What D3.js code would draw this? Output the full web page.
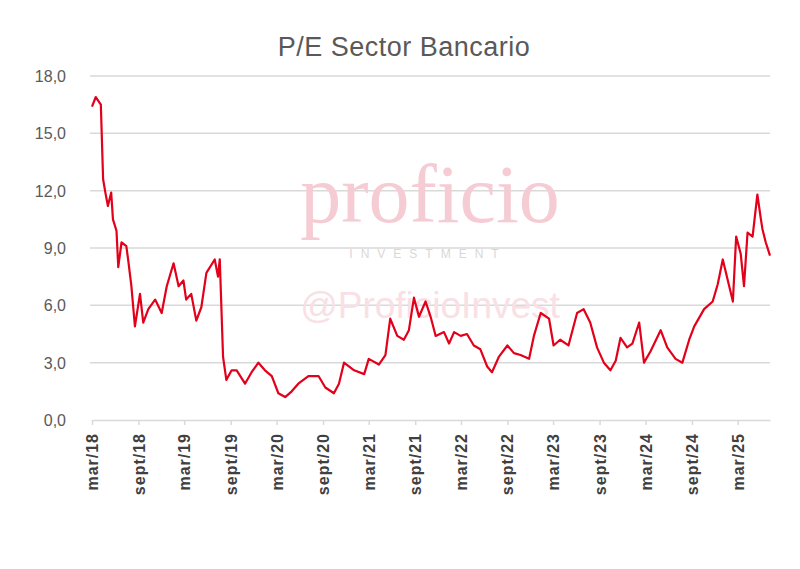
<!DOCTYPE html>
<html>
<head>
<meta charset="utf-8">
<script src="https://cdn.jsdelivr.net/npm/d3@7"></script>
<style>
  body { margin: 0; background: #fff; }
  svg { display: block; }
  .grid line { stroke: #d9d9d9; stroke-width: 1.5; }
  .yaxis text { fill: #595959; font-size: 16px; font-family: "Liberation Sans", Arial, sans-serif; }
  .xaxis text { fill: #404040; font-size: 16px; font-weight: bold; letter-spacing: 1px; font-family: "Liberation Sans", Arial, sans-serif; }
  .xaxis path, .xaxis line { stroke: #d9d9d9; stroke-width: 1.5; }
</style>
</head>
<body>
<script>
// P/E del sector bancario, lecturas aproximadas del grafico
var dates = [
  "2018-03-01","2018-03-16","2018-04-05","2018-04-14","2018-04-23","2018-05-03","2018-05-16","2018-05-23",
  "2018-06-06","2018-06-13","2018-06-26","2018-07-15","2018-07-22","2018-08-04","2018-08-18","2018-09-07",
  "2018-09-20","2018-10-10","2018-11-06","2018-12-02","2018-12-22","2019-01-18","2019-02-07","2019-02-26",
  "2019-03-09","2019-03-29","2019-04-18","2019-05-08","2019-05-28","2019-06-30","2019-07-13","2019-07-20",
  "2019-08-02","2019-08-15","2019-09-05","2019-09-25","2019-10-28","2019-11-23","2019-12-20","2020-01-15",
  "2020-02-11","2020-03-08","2020-04-04","2020-04-30","2020-05-26","2020-07-05","2020-08-14","2020-09-10",
  "2020-10-14","2020-11-03","2020-11-23","2021-01-02","2021-02-11","2021-03-01","2021-04-10","2021-05-06",
  "2021-05-25","2021-06-22","2021-07-18","2021-08-07","2021-08-27","2021-09-16","2021-10-12","2021-11-01",
  "2021-11-21","2021-12-24","2022-01-13","2022-02-02","2022-02-28","2022-03-25","2022-04-21","2022-05-17",
  "2022-06-13","2022-07-02","2022-07-29","2022-09-01","2022-09-27","2022-10-23","2022-11-26","2022-12-15",
  "2023-01-11","2023-02-13","2023-03-03","2023-03-29","2023-05-01","2023-06-04","2023-06-30","2023-07-26",
  "2023-08-22","2023-09-18","2023-10-14","2023-11-04","2023-11-23","2023-12-19","2024-01-09","2024-02-05",
  "2024-02-24","2024-03-21","2024-04-30","2024-05-26","2024-06-28","2024-07-25","2024-08-21","2024-09-10",
  "2024-10-19","2024-11-22","2024-12-12","2025-01-01","2025-01-21","2025-02-10","2025-02-23","2025-03-13",
  "2025-03-26","2025-04-09","2025-04-29","2025-05-18","2025-06-01","2025-06-07","2025-06-20","2025-07-07"
];
var values = [
  16.4, 16.9, 16.5, 12.6, 11.9, 11.2, 11.9, 10.5,
  9.9, 8.0, 9.3, 9.1, 8.4, 7.0, 4.9, 6.6,
  5.1, 5.8, 6.3, 5.6, 7.0, 8.2, 7.0, 7.3,
  6.3, 6.6, 5.2, 5.9, 7.7, 8.4, 7.5, 8.4,
  3.3, 2.1, 2.6, 2.6, 1.9, 2.5, 3.0, 2.6,
  2.3, 1.4, 1.2, 1.5, 1.9, 2.3, 2.3, 1.7,
  1.4, 1.9, 3.0, 2.6, 2.4, 3.2, 2.9, 3.4,
  5.3, 4.4, 4.2, 4.7, 6.4, 5.4, 6.2, 5.4,
  4.4, 4.6, 4.0, 4.6, 4.4, 4.5, 3.9, 3.7,
  2.8, 2.5, 3.3, 3.9, 3.5, 3.4, 3.2, 4.4,
  5.6, 5.3, 3.9, 4.2, 3.9, 5.6, 5.8, 5.1,
  3.8, 3.0, 2.6, 3.1, 4.3, 3.8, 4.0, 5.1,
  3.0, 3.6, 4.7, 3.8, 3.2, 3.0, 4.2, 4.9,
  5.8, 6.2, 7.1, 8.4, 7.3, 6.2, 9.6, 8.7,
  7.0, 9.8, 9.6, 11.8, 10.5, 10.0, 9.3, 8.6
];
var yTicks = [0, 3, 6, 9, 12, 15, 18];
var monthNames = ["ene","feb","mar","abr","may","jun","jul","ago","sept","oct","nov","dic"];
var title = "P/E Sector Bancario";

var width = 800, height = 569;
var margin = {left: 92, right: 30, top: 76, bottom: 149};

var parse = d3.timeParse("%Y-%m-%d");
var data = dates.map(function(d, i) { return {date: parse(d), value: values[i]}; });

var svg = d3.select("body").append("svg")
    .attr("width", width)
    .attr("height", height);

var x = d3.scaleTime()
    .domain([parse("2018-03-01"), parse("2025-07-07")])
    .range([margin.left, width - margin.right]);

var y = d3.scaleLinear()
    .domain([0, 18])
    .range([height - margin.bottom, margin.top]);

// title
svg.append("text")
    .attr("x", 404)
    .attr("y", 56)
    .attr("text-anchor", "middle")
    .style("font-family", "'Liberation Sans', Arial, sans-serif")
    .style("font-size", "27px")
    .style("letter-spacing", "0.5px")
    .style("fill", "#595959")
    .text(title);

// gridlines
svg.append("g")
    .attr("class", "grid")
    .selectAll("line")
    .data(yTicks.filter(function(d) { return d > 0; }))
    .enter().append("line")
    .attr("x1", margin.left - 2)
    .attr("x2", width - margin.right)
    .attr("y1", function(d) { return y(d); })
    .attr("y2", function(d) { return y(d); });

// watermark
var wm = svg.append("g").attr("class", "watermark");
wm.append("text")
    .attr("x", 430).attr("y", 222)
    .attr("text-anchor", "middle")
    .style("font-family", "'Liberation Serif', 'DejaVu Serif', serif")
    .style("font-size", "82px")
    .style("fill", "#f6ccd4")
    .text("proficio");
wm.append("text")
    .attr("x", 428).attr("y", 258)
    .attr("text-anchor", "middle")
    .style("font-family", "'Liberation Sans', Arial, sans-serif")
    .style("font-size", "12px")
    .style("letter-spacing", "8px")
    .style("fill", "#d8d8d8")
    .text("INVESTMENT");
wm.append("text")
    .attr("x", 430).attr("y", 318)
    .attr("text-anchor", "middle")
    .style("font-family", "'Liberation Sans', Arial, sans-serif")
    .style("font-size", "37px")
    .style("fill", "#f8e0e5")
    .text("@ProficioInvest");

// y axis
var yAxis = svg.append("g")
    .attr("class", "yaxis")
    .attr("transform", "translate(" + (margin.left - 23) + ",0)")
    .call(d3.axisLeft(y).tickValues(yTicks).tickSize(0)
      .tickFormat(function(d) { return d3.format(".1f")(d).replace(".", ","); }));
yAxis.select(".domain").remove();
yAxis.selectAll("text").attr("dy", "0.35em");

// x axis
var xTicks = d3.timeMonth.range(parse("2018-03-01"), parse("2025-04-01"), 6);
var xAxis = svg.append("g")
    .attr("class", "xaxis")
    .attr("transform", "translate(0," + y(0) + ")")
    .call(d3.axisBottom(x).tickValues(xTicks).tickSize(5).tickSizeOuter(0)
      .tickFormat(function(d) { return monthNames[d.getMonth()] + "/" + d3.timeFormat("%y")(d); }));
xAxis.selectAll("text")
    .attr("transform", "rotate(-90)")
    .attr("text-anchor", "end")
    .attr("x", -13)
    .attr("y", 0)
    .attr("dy", "0.35em");

// line
var line = d3.line()
    .x(function(d) { return x(d.date); })
    .y(function(d) { return y(d.value); });

svg.append("path")
    .datum(data)
    .attr("fill", "none")
    .attr("stroke", "#e3001b")
    .attr("stroke-width", 2.2)
    .attr("stroke-linejoin", "round")
    .attr("d", line);
</script>
</body>
</html>
